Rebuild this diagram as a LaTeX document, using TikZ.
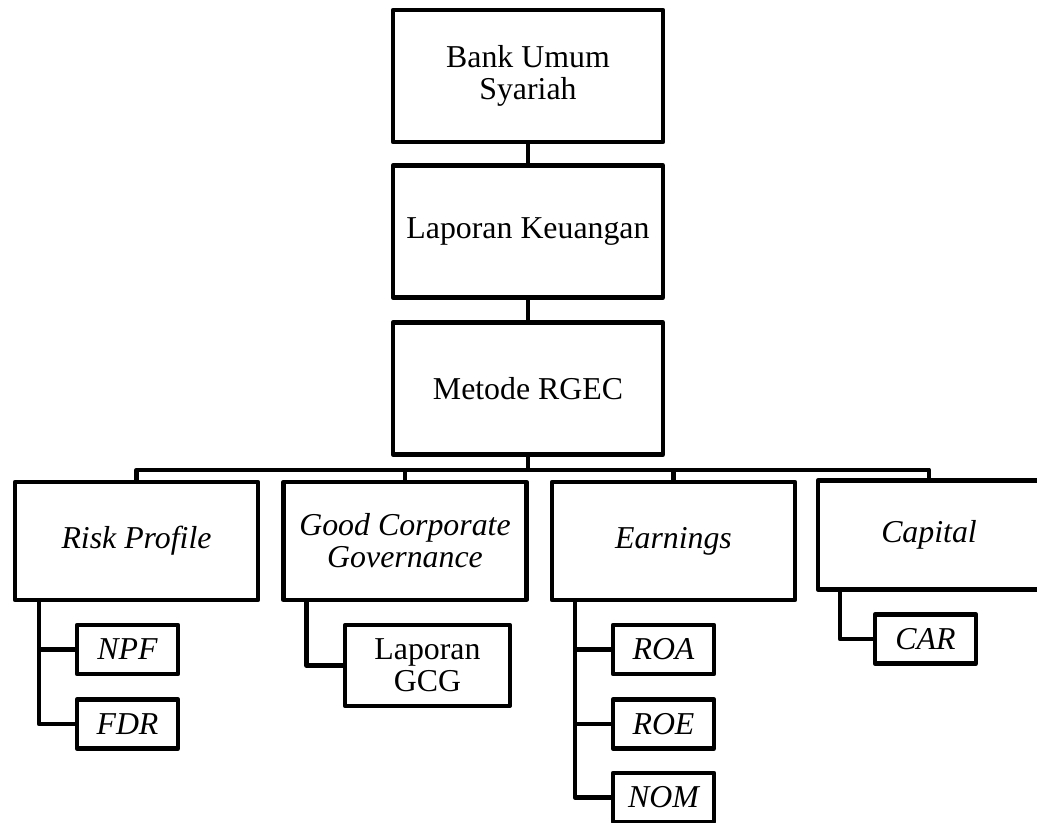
\documentclass[tikz,border=0pt]{standalone}
\usepackage{fontspec}
\setmainfont{Liberation Serif}
\usepackage{tikz}
\usetikzlibrary{positioning, calc}

\tikzset{
  txt/.style={font=\fontsize{12pt}{12pt}\selectfont,align=center,inner sep=0pt},
  topbox/.style={txt,rectangle,draw,line width=1.6pt,line join=round,fill=white,
                 minimum width=101.8pt,minimum height=49.8pt},
  areabox/.style={txt,rectangle,draw,line width=1.6pt,line join=round,fill=white,
                  minimum width=91.6pt,minimum height=44.5pt},
  itembox/.style={txt,rectangle,draw,line width=1.6pt,line join=round,fill=white,
                  minimum width=38.1pt,minimum height=18.5pt},
  link/.style={line width=1.6pt,line join=round}
}

\begin{document}
\begin{tikzpicture}[x=0.377pt,y=-0.377pt]
      \useasboundingbox (0,0) rectangle (1037,823);
      \clip (0,0) rectangle (1037,823);

      % main chain
      \node[topbox] (bus) at (528,76){Bank Umum\\Syariah};
      \node[topbox] (lk) at (528,231.5){Laporan Keuangan};
      \node[topbox] (rgec) at (528,388.5){Metode RGEC};
      \draw[link] (bus.south) -- (lk.north);
      \draw[link] (lk.south) -- (rgec.north);

      % RGEC components
      \node[areabox] (risk) at (136.5,541){\itshape Risk Profile};
      \node[areabox] (gcg) at (405,541){\itshape Good Corporate\\\itshape Governance};
      \node[areabox] (earn) at (673.5,541){\itshape Earnings};
      \node[areabox,minimum width=83.7pt,minimum height=41.1pt]
            (cap) at (929,535){\itshape Capital};
      \draw[link] (rgec.south) -- ++(0,13) coordinate (split);
      \draw[link] (risk.north) |- (split) -| (cap.north);
      \draw[link] (gcg.north) -- (gcg.north |- split);
      \draw[link] (earn.north) -- (earn.north |- split);

      % indicators
      \node[itembox] (npf) at (127.5,649.5){\itshape NPF};
      \node[itembox] (fdr) at (127.5,724){\itshape FDR};
      \node[itembox,minimum width=62.2pt,minimum height=30.5pt]
            (lgcg) at (427.5,665.5){Laporan\\GCG};
      \node[itembox] (roa) at (663.5,649.5){\itshape ROA};
      \node[itembox] (roe) at (663.5,724){\itshape ROE};
      \node[itembox] (nom) at (663.5,797.5){\itshape NOM};
      \node[itembox] (car) at (925.5,639){\itshape CAR};

      \draw[link] ($(risk.south west)+(26,0)$) |- (npf.west);
      \draw[link] ($(risk.south west)+(26,0)$) |- (fdr.west);
      \draw[link] ($(gcg.south west)+(25,0)$) |- (lgcg.west);
      \draw[link] ($(earn.south west)+(25,0)$) |- (roa.west);
      \draw[link] ($(earn.south west)+(25,0)$) |- (roe.west);
      \draw[link] ($(earn.south west)+(25,0)$) |- (nom.west);
      \draw[link] ($(cap.south west)+(24,0)$) |- (car.west);
\end{tikzpicture}
\end{document}
